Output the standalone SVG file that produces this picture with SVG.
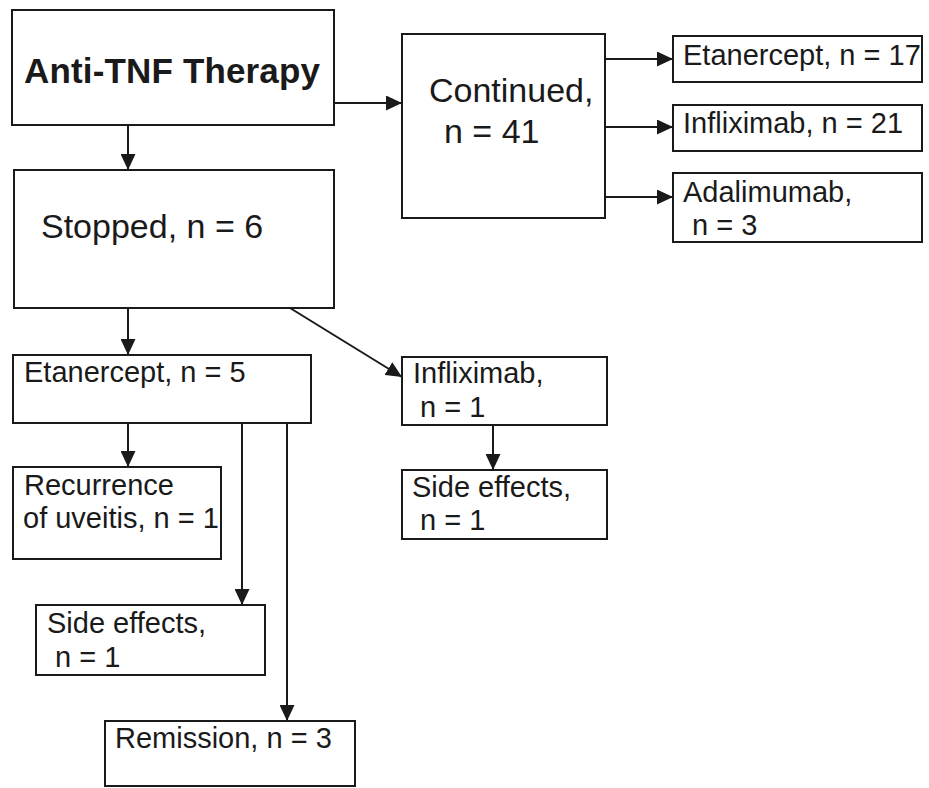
<svg xmlns="http://www.w3.org/2000/svg" width="929" height="788" viewBox="0 0 929 788">
<defs>
<marker id="ah" markerUnits="userSpaceOnUse" markerWidth="17" markerHeight="15" refX="16" refY="7.5" orient="auto">
<path d="M0,0 L16,7.5 L0,15 z" fill="#1a1a1a"/>
</marker>
<style>
rect{fill:#fff;stroke:#1a1a1a;stroke-width:2}
text{font-family:"Liberation Sans",Arial,sans-serif;fill:#1a1a1a}
.big{font-size:34px}
.sm{font-size:29px}
.bold{font-size:35px;font-weight:bold}
#connectors line{stroke:#1a1a1a;stroke-width:2;marker-end:url(#ah)}
</style>
</defs>
<rect x="0" y="0" width="929" height="788" style="fill:#fff;stroke:none"/>
<g id="connectors">
<line x1="334" y1="103" x2="402" y2="103"/>
<line x1="128" y1="125" x2="128" y2="170"/>
<line x1="605" y1="59" x2="673" y2="59"/>
<line x1="605" y1="127" x2="673" y2="127"/>
<line x1="605" y1="197" x2="673" y2="197"/>
<line x1="128" y1="308" x2="128" y2="355"/>
<line x1="290" y1="308" x2="402" y2="377"/>
<line x1="493" y1="425" x2="493" y2="470"/>
<line x1="128" y1="423" x2="128" y2="467"/>
<line x1="242" y1="423" x2="242" y2="605"/>
<line x1="287" y1="423" x2="287" y2="721"/>
</g>
<g id="anti-tnf">
<rect x="12" y="10" width="322" height="115"/>
<text class="bold" x="24" y="83" textLength="296">Anti-TNF Therapy</text>
</g>
<g id="continued">
<rect x="402" y="34" width="203" height="184"/>
<text class="big" x="429" y="102">Continued,</text>
<text class="big" x="444" y="143">n = 41</text>
</g>
<g id="cont-etanercept">
<rect x="673" y="36" width="249" height="46"/>
<text class="sm" x="683" y="65">Etanercept, n = 17</text>
</g>
<g id="cont-infliximab">
<rect x="673" y="105" width="249" height="46"/>
<text class="sm" x="683" y="133">Infliximab, n = 21</text>
</g>
<g id="cont-adalimumab">
<rect x="673" y="173" width="249" height="69"/>
<text class="sm" x="683" y="202">Adalimumab,</text>
<text class="sm" x="692" y="235">n = 3</text>
</g>
<g id="stopped">
<rect x="14" y="170" width="320" height="138"/>
<text class="big" x="41" y="238">Stopped, n = 6</text>
</g>
<g id="stop-etanercept">
<rect x="13" y="355" width="298" height="68"/>
<text class="sm" x="24" y="382">Etanercept, n = 5</text>
</g>
<g id="stop-infliximab">
<rect x="402" y="357" width="205" height="68"/>
<text class="sm" x="413" y="383">Infliximab,</text>
<text class="sm" x="420" y="417">n = 1</text>
</g>
<g id="inf-side-effects">
<rect x="402" y="470" width="205" height="69"/>
<text class="sm" x="412" y="497">Side effects,</text>
<text class="sm" x="420" y="530">n = 1</text>
</g>
<g id="recurrence">
<rect x="13" y="467" width="208" height="92"/>
<text class="sm" x="24" y="495">Recurrence</text>
<text class="sm" x="23" y="528">of uveitis, n = 1</text>
</g>
<g id="eta-side-effects">
<rect x="36" y="605" width="229" height="70"/>
<text class="sm" x="47" y="633">Side effects,</text>
<text class="sm" x="55" y="667">n = 1</text>
</g>
<g id="remission">
<rect x="105" y="721" width="250" height="65"/>
<text class="sm" x="115" y="748">Remission, n = 3</text>
</g>
</svg>
